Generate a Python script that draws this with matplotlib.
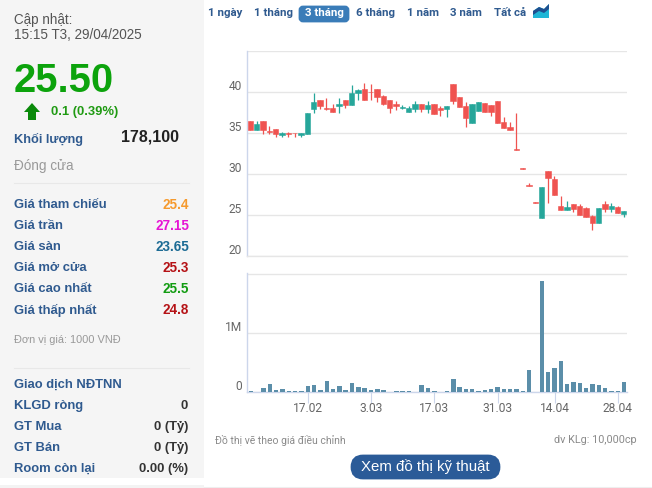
import matplotlib
matplotlib.use('Agg')
import matplotlib.pyplot as plt
from matplotlib.patches import FancyBboxPatch, Polygon, Rectangle
from matplotlib.transforms import ScaledTranslation

# candles, oldest first
opens = [36.5, 35.41, 36.5, 35.28, 35.53, 34.8, 35.0, 35.0, 34.72, 34.92,
         37.97, 39.07, 38.09, 38.09, 38.33, 39.07, 38.46, 39.92, 40.41, 40.04,
         40.41, 39.55, 39.07, 38.58, 38.01, 37.6, 37.97, 38.58, 37.97, 38.58,
         38.09, 37.97, 41.02, 39.43, 38.33, 36.26, 37.72, 38.7, 38.46, 38.94,
         36.38, 35.77, 33.05, 30.73, 28.7, 26.6, 24.67, 30.41, 29.43, 26.14,
         25.65, 26.38, 26.14, 25.89, 24.92, 24.07, 26.38, 25.77, 26.02, 25.16]
highs = [36.5, 36.42, 36.5, 35.89, 35.53, 35.16, 35.16, 35.0, 35.04, 37.48,
         39.92, 39.07, 39.31, 38.58, 39.31, 39.07, 40.89, 40.41, 41.14, 41.02,
         40.41, 39.67, 39.07, 38.94, 38.46, 38.33, 38.94, 38.58, 38.94, 38.58,
         38.33, 38.33, 41.02, 39.43, 38.82, 38.58, 38.82, 38.7, 38.46, 38.94,
         36.99, 36.38, 37.48, 30.73, 28.94, 26.6, 28.46, 30.41, 29.8, 27.36,
         26.75, 26.38, 26.38, 26.02, 25.04, 25.89, 26.75, 26.5, 26.14, 25.53]
lows = [35.33, 35.41, 34.92, 34.92, 34.55, 34.55, 34.55, 34.55, 34.55, 34.92,
        37.48, 37.97, 37.85, 37.6, 37.48, 38.09, 38.46, 39.07, 39.07, 39.07,
        38.82, 38.46, 37.48, 37.85, 37.97, 37.6, 37.6, 37.6, 37.48, 37.36,
        37.11, 36.99, 38.58, 38.21, 35.77, 36.26, 37.72, 37.6, 37.11, 36.26,
        35.65, 35.41, 33.0, 30.69, 28.62, 26.55, 24.67, 26.5, 27.48, 25.65,
        25.65, 25.41, 25.04, 24.8, 23.21, 24.07, 25.41, 25.41, 25.28, 24.8]
closes = [35.33, 36.14, 35.33, 35.16, 34.92, 35.04, 34.92, 34.96, 35.04, 37.48,
          38.82, 38.33, 37.97, 37.6, 38.58, 38.46, 39.92, 40.28, 39.07, 39.96,
          39.43, 38.58, 38.09, 38.33, 38.21, 38.09, 38.58, 37.97, 38.46, 37.36,
          37.76, 38.33, 38.94, 38.21, 36.87, 38.58, 38.82, 37.6, 37.6, 36.26,
          35.65, 35.41, 33.0, 30.69, 28.62, 26.55, 28.46, 29.55, 27.48, 25.65,
          26.02, 25.77, 25.04, 24.8, 24.07, 25.89, 25.77, 26.14, 25.28, 25.53]
volumes = [0.02, 0, 0.07, 0.14, 0.04, 0.06, 0.02, 0.02, 0.02, 0.11,
           0.12, 0.04, 0.19, 0.06, 0.11, 0.04, 0.16, 0.09, 0.07, 0.04,
           0.06, 0.04, 0.01, 0.02, 0.02, 0.02, 0, 0.12, 0.07, 0.02,
           0, 0.02, 0.23, 0.09, 0.06, 0.06, 0.02, 0.04, 0.06, 0.09,
           0.06, 0.06, 0.06, 0.02, 0.38, 0, 1.89, 0.34, 0.41, 0.53,
           0.14, 0.18, 0.16, 0.07, 0.14, 0.12, 0.07, 0.02, 0.02, 0.18]

date_ticks = [9, 19, 29, 39, 48, 58]
date_labels = ['17.02', '3.03', '17.03', '31.03', '14.04', '28.04']
price_ticks = [20, 25, 30, 35, 40, 45]
price_labels = ['20', '25', '30', '35', '40', '']

tabs = ['1 ngày', '1 tháng', '3 tháng', '6 tháng', '1 năm', '3 năm', 'Tất cả']
tab_centers = [225.5, 273.5, 324, 376, 423, 466, 510]

price_rows = ['Giá tham chiếu', 'Giá trần', 'Giá sàn', 'Giá mở cửa', 'Giá cao nhất', 'Giá thấp nhất']
price_values = ['25.4', '27.15', '23.65', '25.3', '25.5', '24.8']
price_colors = ['#f59a2e', '#e614d4', '#1c6b94', '#b51216', '#129c12', '#b51216']
foreign_rows = ['Giao dịch NĐTNN', 'KLGD ròng', 'GT Mua', 'GT Bán', 'Room còn lại']
foreign_values = ['', '0', '0 (Tỷ)', '0 (Tỷ)', '0.00 (%)']

RED = '#ef5350'
TEAL = '#26a69a'
BLUE = '#2f5a8f'
GRID = '#e6e6e6'
AXIS = '#ccd6eb'
SANS = 'Liberation Sans'
CHART = 'Roboto'

W, H = 652, 488


def px(n):
    return n * 0.72


def panel(x0, y0, x1, y1):
    return fig.add_axes([x0 / W, 1 - y1 / H, (x1 - x0) / W, (y1 - y0) / H])


fig = plt.figure(figsize=(W / 100, H / 100), dpi=100, facecolor='white')

# page furniture in pixel coordinates
bg = fig.add_axes([0, 0, 1, 1])
bg.set_xlim(0, W)
bg.set_ylim(H, 0)
bg.axis('off')
bg.add_patch(Rectangle((0, 0), 204, 478, color='#f5f5f5', lw=0))
bg.add_patch(Rectangle((0, 485), 204, 3, color='#f3f3f3', lw=0))
bg.plot([204, 652], [487, 487], color='#eeeeee', lw=0.8)
bg.plot([14, 189], [183, 183], color='#e8e8e8', lw=0.8)
bg.plot([14, 189], [368, 368], color='#e8e8e8', lw=0.8)


def label(x, y, s, size, color='#333333', weight='normal', ha='left', family=SANS):
    bg.text(x, y + 1, s, fontsize=px(size), color=color, fontweight=weight, ha=ha, va='center', family=family)


label(14, 19, 'Cập nhật:', 13.5, '#555555')
label(14, 34, '15:15 T3, 29/04/2025', 13.5, '#555555')
label(14, 80, '25.50', 40, '#0ca30c', 'bold')
bg.add_patch(Polygon([(32, 103), (40, 112), (36, 112), (36, 120), (28, 120), (28, 112), (24, 112)],
                     color='#0a8a0a', lw=0))
label(51, 111, '0.1 (0.39%)', 13, '#1f9a12', 'bold')
label(14, 138, 'Khối lượng', 12.8, BLUE, 'bold')
label(179, 136, '178,100', 16, '#222222', 'bold', ha='right')
label(14, 165, 'Đóng cửa', 13.5, '#999999')

for i in range(len(price_rows)):
    label(14, 204 + 21 * i, price_rows[i], 13, BLUE, 'bold')
    label(189, 204 + 21 * i, price_values[i], 13.5, price_colors[i], 'bold', ha='right')
label(14, 339, 'Đơn vị giá: 1000 VNĐ', 11, '#999999')
for i in range(len(foreign_rows)):
    label(14, 384 + 21 * i, foreign_rows[i], 13, BLUE, 'bold')
    label(188, 384 + 21 * i, foreign_values[i], 13, '#333333', 'bold', ha='right')

bg.add_patch(FancyBboxPatch((300, 7), 48, 14, boxstyle='round,pad=0,rounding_size=3',
                            mutation_aspect=1, color='#3a7cb8', lw=2))
for i in range(len(tabs)):
    color = 'white' if tabs[i] == '3 tháng' else BLUE
    label(tab_centers[i], 12, tabs[i], 11.5, color, 'bold', ha='center', family=CHART)
bg.add_patch(Polygon([(533, 18), (533, 11), (539, 7), (544, 9), (549, 4), (549, 18)], color='#1fb6d6', lw=0))
bg.add_patch(Polygon([(533, 11), (539, 7), (544, 9), (549, 4), (549, 9), (544, 13), (539, 11), (533, 15)],
                     color='#1f4f8f', lw=0))

label(215, 439, 'Đồ thị vẽ theo giá điều chỉnh', 10.4, '#8a8a8a', family=CHART)
label(637, 439, 'dv KLg: 10,000cp', 10.9, '#8a8a8a', ha='right', family=CHART)
bg.add_patch(FancyBboxPatch((352, 456), 147, 22, boxstyle='round,pad=0,rounding_size=11',
                            mutation_aspect=1, color='#2b5b98', lw=2))
label(425.5, 465.5, 'Xem đồ thị kỹ thuật', 15, 'white', ha='center')

# price panel
ax = panel(247.3, 51, 627, 256.3)
xs = list(range(len(opens)))
for i in xs:
    color = TEAL if closes[i] >= opens[i] else RED
    ax.vlines(i, lows[i], highs[i], color=color, lw=0.9, zorder=3)
    ax.bar(i, closes[i] - opens[i], bottom=opens[i], width=0.84, color=color,
           edgecolor=color, lw=0.4, zorder=3)
ax.set_xlim(-0.5, 59.5)
ax.set_ylim(20, 45)
ax.set_yticks(price_ticks)
ax.set_yticklabels(price_labels)
ax.set_xticks([])

# volume panel
ax2 = panel(247.3, 272.7, 627, 392.3)
ax2.bar(xs, volumes, width=0.7, color='#5b8ea9', zorder=3)
ax2.set_xlim(-0.55, 59.45)
ax2.set_ylim(0, 2.027)
ax2.set_yticks([0, 1, 2])
ax2.set_yticklabels(['0', '1M', ''])
ax2.set_xticks(date_ticks)
ax2.set_xticklabels(date_labels)

lift = ScaledTranslation(0, 0.07, fig.dpi_scale_trans)
for a in (ax, ax2):
    a.set_facecolor('none')
    a.grid(axis='y', color=GRID, lw=1, zorder=1)
    for side in ('top', 'right'):
        a.spines[side].set_visible(False)
    a.spines['left'].set_color(AXIS)
    a.spines['left'].set_linewidth(1)
    a.spines['bottom'].set_color(AXIS if a is ax2 else GRID)
    a.spines['bottom'].set_linewidth(1)
    a.tick_params(axis='y', length=0, pad=4, labelsize=px(12), labelcolor='#666666')
    for t in a.get_yticklabels():
        t.set_family(CHART)
        t.set_transform(t.get_transform() + lift)
ax2.tick_params(axis='x', length=8, width=0.8, color=AXIS, pad=-1, labelsize=px(12), labelcolor='#666666')
for t in ax2.get_xticklabels():
    t.set_family(CHART)

fig.savefig('out.png', dpi=100)
